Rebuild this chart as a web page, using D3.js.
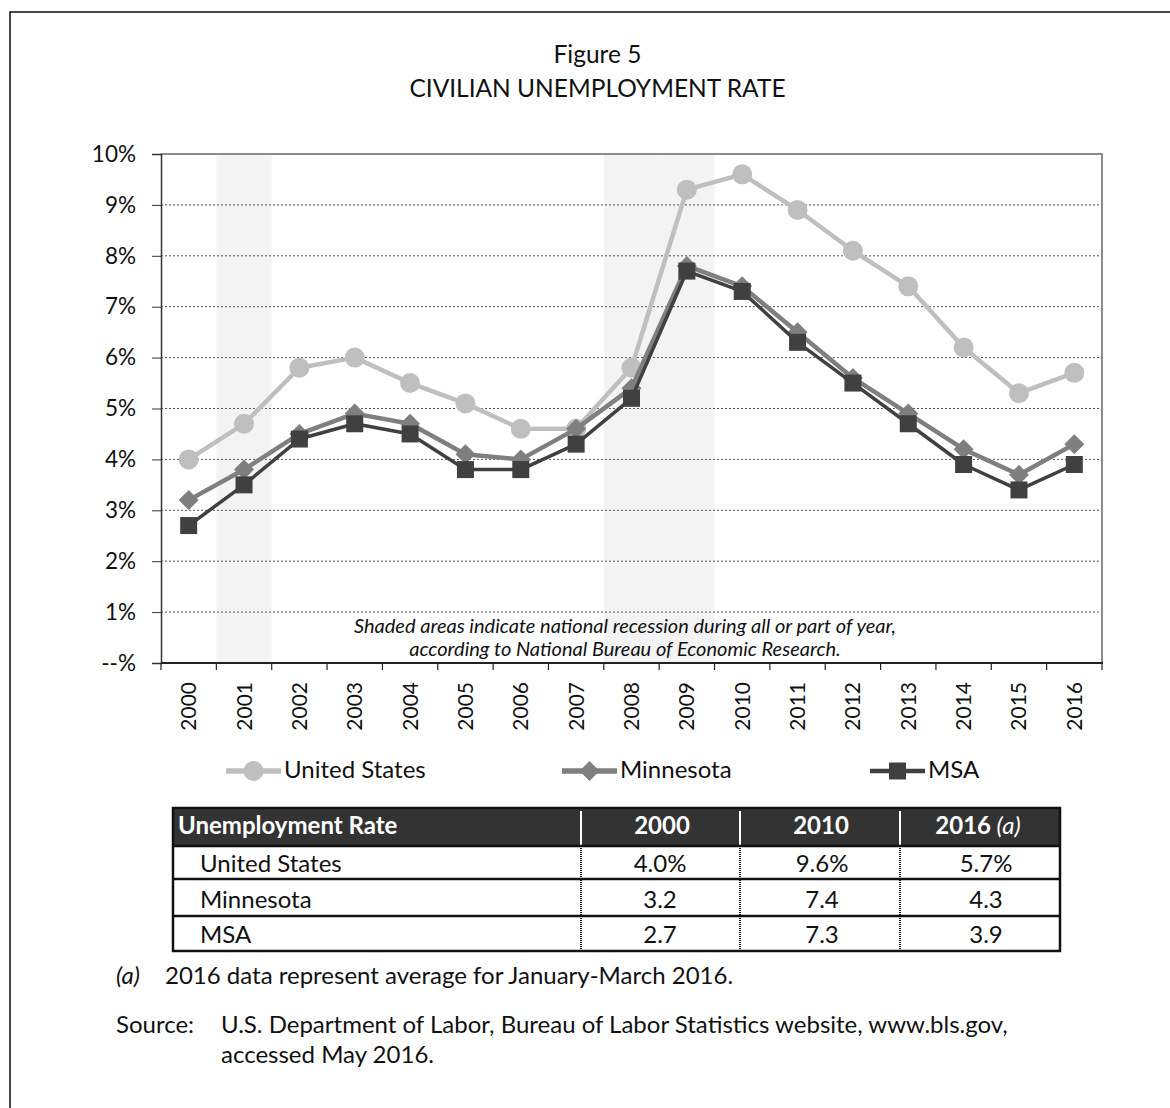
<!DOCTYPE html>
<html>
<head>
<meta charset="utf-8">
<script src="https://cdn.jsdelivr.net/npm/d3@7"></script>
<style>
  html, body { margin: 0; padding: 0; background: #fff; }
  svg { display: block; font-family: Lato, "Open Sans", sans-serif; }
</style>
</head>
<body>
<svg id="chart" width="1170" height="1108"></svg>
<script>
// Civilian unemployment rate, annual averages (percent)
const years = ["2000","2001","2002","2003","2004","2005","2006","2007","2008",
               "2009","2010","2011","2012","2013","2014","2015","2016"];
const unitedStates = [4.0, 4.7, 5.8, 6.0, 5.5, 5.1, 4.6, 4.6, 5.8, 9.3, 9.6, 8.9, 8.1, 7.4, 6.2, 5.3, 5.7];
const minnesota    = [3.2, 3.8, 4.5, 4.9, 4.7, 4.1, 4.0, 4.6, 5.4, 7.8, 7.4, 6.5, 5.6, 4.9, 4.2, 3.7, 4.3];
const msa          = [2.7, 3.5, 4.4, 4.7, 4.5, 3.8, 3.8, 4.3, 5.2, 7.7, 7.3, 6.3, 5.5, 4.7, 3.9, 3.4, 3.9];
const recessionYears = ["2001", "2008", "2009"];
const yTicks = [0, 1, 2, 3, 4, 5, 6, 7, 8, 9, 10];

// Summary table
const tableYears = ["2000", "2010", "2016"];
const tableRows = ["United States", "Minnesota", "MSA"];
const tableValues = [
  ["4.0%", "9.6%", "5.7%"],
  ["3.2", "7.4", "4.3"],
  ["2.7", "7.3", "3.9"]
];

const svg = d3.select("#chart");
const ink = "#111";

// outer frame
svg.append("rect")
  .attr("x", 10).attr("y", 12).attr("width", 1200).attr("height", 1200)
  .attr("fill", "none").attr("stroke", "#1a1a1a").attr("stroke-width", 1.6);

// titles
svg.append("text").attr("x", 597.5).attr("y", 63).attr("text-anchor", "middle")
  .attr("font-size", 24.5).attr("fill", ink).text("Figure 5");
svg.append("text").attr("x", 597.5).attr("y", 97).attr("text-anchor", "middle")
  .attr("font-size", 24.5).attr("fill", ink).text("CIVILIAN UNEMPLOYMENT RATE");

const plotL = 161, plotR = 1102, plotT = 154, plotB = 663;
const x = d3.scaleBand().domain(years).range([plotL, plotR]).padding(0);
const y = d3.scaleLinear().domain([0, 10]).range([plotB, plotT]);
const cx = d => x(d) + x.bandwidth() / 2;

// recession shading
svg.append("g").selectAll("rect").data(recessionYears).join("rect")
  .attr("x", d => x(d)).attr("y", plotT).attr("width", x.bandwidth())
  .attr("height", plotB - plotT).attr("fill", "#f2f3f2");

// dotted gridlines
svg.append("g").selectAll("line").data(yTicks.filter(t => t > 0 && t < 10)).join("line")
  .attr("x1", plotL).attr("x2", plotR)
  .attr("y1", d => y(d)).attr("y2", d => y(d))
  .attr("stroke", "#555").attr("stroke-width", 1).attr("stroke-dasharray", "2,2");

// plot frame (top and right)
svg.append("path")
  .attr("d", `M${plotL},${plotT}H${plotR}V${plotB}`)
  .attr("fill", "none").attr("stroke", "#8c8c8c").attr("stroke-width", 2);

// note
const note = svg.append("text").attr("text-anchor", "middle").attr("font-size", 20)
  .attr("font-style", "italic").attr("fill", ink);
note.append("tspan").attr("x", 625).attr("y", 633)
  .text("Shaded areas indicate national recession during all or part of year,");
note.append("tspan").attr("x", 625).attr("y", 656)
  .text("according to National Bureau of Economic Research.");

// y axis
const yAxis = svg.append("g").attr("transform", `translate(${plotL},0)`)
  .call(d3.axisLeft(y).tickValues(yTicks).tickSize(9).tickPadding(16)
    .tickFormat(d => d === 0 ? "--%" : d + "%"));
yAxis.select(".domain").attr("stroke", "#333").attr("stroke-width", 1.5);
yAxis.selectAll(".tick line").attr("stroke", "#333");
yAxis.selectAll(".tick text").attr("font-size", 22.5).attr("fill", ink)
  .attr("font-family", "Lato, sans-serif");

// x axis: ticks at category boundaries
const xAxisG = svg.append("g").attr("transform", `translate(0,${plotB})`);
xAxisG.append("line").attr("x1", plotL).attr("x2", plotR + 1)
  .attr("stroke", "#222").attr("stroke-width", 2);
xAxisG.selectAll("line.tk").data(years.concat(["end"])).join("line").attr("class", "tk")
  .attr("x1", (d, i) => plotL + i * x.bandwidth()).attr("x2", (d, i) => plotL + i * x.bandwidth())
  .attr("y1", 0).attr("y2", 7).attr("stroke", "#222").attr("stroke-width", 1.2);
xAxisG.selectAll("text").data(years).join("text")
  .attr("transform", d => `translate(${cx(d) + 7.5},19) rotate(-90)`)
  .attr("text-anchor", "end").attr("font-size", 21).attr("fill", ink).text(d => d);

// series
const series = [
  { name: "United States", values: unitedStates, color: "#bfbfbf", width: 4.5, shape: "circle" },
  { name: "Minnesota", values: minnesota, color: "#7f7f7f", width: 4.5, shape: "diamond" },
  { name: "MSA", values: msa, color: "#404040", width: 3.5, shape: "square" }
];
const symbolFor = {
  circle: d3.symbol().type(d3.symbolCircle).size(Math.PI * 10 * 10),
  diamond: d3.symbol().type(d3.symbolDiamond2).size(255),
  square: d3.symbol().type(d3.symbolSquare).size(289)
};
const line = d3.line().x(d => cx(d.year)).y(d => y(d.value));

series.forEach(s => {
  const pts = years.map((yr, i) => ({ year: yr, value: s.values[i] }));
  const g = svg.append("g");
  g.append("path").datum(pts).attr("d", line)
    .attr("fill", "none").attr("stroke", s.color).attr("stroke-width", s.width)
    .attr("stroke-linejoin", "round");
  g.selectAll("path.m").data(pts).join("path").attr("class", "m")
    .attr("d", symbolFor[s.shape])
    .attr("transform", d => `translate(${cx(d.year)},${y(d.value)})`)
    .attr("fill", s.color);
});

// legend
const legendPos = [226, 562, 870];
const legendY = 771;
series.forEach((s, i) => {
  const lx = legendPos[i];
  const g = svg.append("g");
  g.append("line").attr("x1", lx).attr("x2", lx + 55).attr("y1", legendY).attr("y2", legendY)
    .attr("stroke", s.color).attr("stroke-width", s.width + 1);
  g.append("path").attr("d", symbolFor[s.shape])
    .attr("transform", `translate(${lx + 27.5},${legendY})`).attr("fill", s.color);
  g.append("text").attr("x", lx + 58).attr("y", 778).attr("font-size", 24)
    .attr("fill", ink).text(s.name);
});

// table
const tLeft = 173, tRight = 1060, tTop = 808, headerBottom = 846;
const colEdges = [tLeft, 581, 740, 900, tRight];
const rowEdges = [headerBottom, 879, 916, 951];
const rowBaselines = [872, 908, 943];
const tbl = svg.append("g");
tbl.append("rect").attr("x", tLeft).attr("y", tTop).attr("width", tRight - tLeft)
  .attr("height", headerBottom - tTop).attr("fill", "#333");
// header separators
tbl.selectAll("line.hs").data(colEdges.slice(1, 4)).join("line").attr("class", "hs")
  .attr("x1", d => d).attr("x2", d => d).attr("y1", tTop + 3).attr("y2", headerBottom)
  .attr("stroke", "#fff").attr("stroke-width", 2);
// body dotted separators
tbl.selectAll("line.bs").data(colEdges.slice(1, 4)).join("line").attr("class", "bs")
  .attr("x1", d => d).attr("x2", d => d).attr("y1", headerBottom).attr("y2", rowEdges[3])
  .attr("stroke", ink).attr("stroke-width", 2).attr("stroke-dasharray", "1,1");
// row lines
tbl.selectAll("line.rl").data(rowEdges.slice(0, 3)).join("line").attr("class", "rl")
  .attr("x1", tLeft).attr("x2", tRight).attr("y1", d => d).attr("y2", d => d)
  .attr("stroke", ink).attr("stroke-width", 2.5);
// border
tbl.append("rect").attr("x", tLeft).attr("y", tTop).attr("width", tRight - tLeft)
  .attr("height", rowEdges[3] - tTop).attr("fill", "none")
  .attr("stroke", ink).attr("stroke-width", 2.5);

tbl.append("text").attr("x", tLeft + 5).attr("y", 834).attr("font-size", 24)
  .attr("font-weight", "bold").attr("fill", "#fff").text("Unemployment Rate");
const headerCenters = [662, 821, 978];
tableYears.forEach((yr, i) => {
  const t = tbl.append("text").attr("x", headerCenters[i]).attr("y", 834)
    .attr("text-anchor", "middle").attr("font-size", 24).attr("font-weight", "bold")
    .attr("fill", "#fff").text(yr);
  if (yr === "2016") {
    t.append("tspan").attr("font-weight", "normal").attr("font-style", "italic").text(" (a)");
  }
});
const valueCenters = [660, 822, 986];
tableRows.forEach((r, ri) => {
  const base = rowBaselines[ri];
  tbl.append("text").attr("x", 200).attr("y", base).attr("font-size", 24)
    .attr("fill", ink).text(r);
  tableValues[ri].forEach((v, ci) => {
    tbl.append("text").attr("x", valueCenters[ci]).attr("y", base)
      .attr("text-anchor", "middle").attr("font-size", 24).attr("fill", ink).text(v);
  });
});

// footnotes
svg.append("text").attr("x", 116).attr("y", 984).attr("font-size", 24)
  .attr("font-style", "italic").attr("fill", ink).text("(a)");
svg.append("text").attr("x", 165).attr("y", 984).attr("font-size", 24)
  .attr("fill", ink).text("2016 data represent average for January-March 2016.");
svg.append("text").attr("x", 116).attr("y", 1033).attr("font-size", 24)
  .attr("fill", ink).text("Source:");
svg.append("text").attr("x", 221).attr("y", 1033).attr("font-size", 24)
  .attr("fill", ink).text("U.S. Department of Labor, Bureau of Labor Statistics website, www.bls.gov,");
svg.append("text").attr("x", 221).attr("y", 1063).attr("font-size", 24)
  .attr("fill", ink).text("accessed May 2016.");
</script>
</body>
</html>
